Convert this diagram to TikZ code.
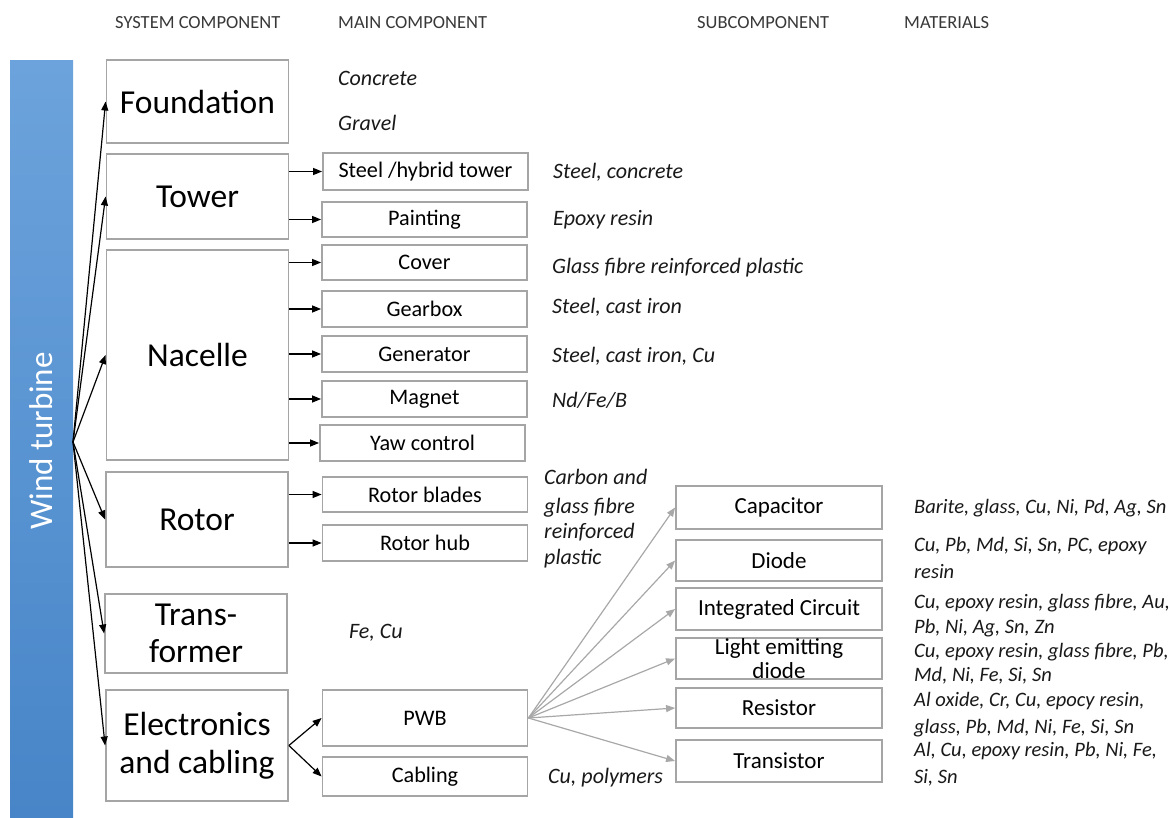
\documentclass[tikz,border=0pt]{standalone}
\usepackage{fontspec}
\setmainfont{Carlito}
\usetikzlibrary{arrows.meta}
\definecolor{boxgray}{HTML}{A5A5A5}
\definecolor{arrowgray}{HTML}{A8A8A8}
\definecolor{headgray}{HTML}{383838}
\definecolor{bartop}{HTML}{6CA3DC}
\definecolor{barbottom}{HTML}{4785C8}
\begin{document}
\begin{tikzpicture}[x=1pt,y=-1pt,
  box/.style={draw=boxgray, line width=1.8pt, fill=white, inner sep=0pt, align=center},
  sysbox/.style={box, minimum width=182pt, font=\fontsize{33.5}{37.5}\selectfont},
  mainbox/.style={box, minimum width=205pt, font=\fontsize{22.2}{24}\selectfont},
  subbox/.style={box, minimum width=206pt, font=\fontsize{23}{24}\selectfont},
  mat/.style={anchor=base west, inner sep=0pt, font=\fontsize{22}{25}\selectfont\itshape, text=black!90},
  smat/.style={mat, font=\fontsize{20.5}{25}\selectfont\itshape},
  head/.style={anchor=base west, inner sep=0pt, font=\fontsize{18.5}{20}\selectfont, text=headgray},
  link/.style={line width=1.2pt, -{Triangle[length=9pt,width=7pt]}},
  glink/.style={draw=arrowgray, line width=1.2pt, -{Triangle[length=9pt,width=7pt]}},
]
\useasboundingbox (0,0) rectangle (1171,818);

% column headings
\node[head] (h1) at (115,28.5) {SYSTEM COMPONENT};
\node[head] (h2) at (338,28.5) {MAIN COMPONENT};
\node[head] (h3) at (697,28.5) {SUBCOMPONENT};
\node[head] (h4) at (904,28.5) {MATERIALS};

% blue side bar
\node[inner sep=0pt, minimum width=63pt, minimum height=757pt,
      top color=bartop, bottom color=barbottom] (bar) at (41.5,439.5) {};
\node[rotate=90, text=white, font=\fontsize{33}{36}\selectfont] (wtlabel) at (41.5,441) {Wind turbine};
\coordinate (fan) at (73,442);

% system components
\node[sysbox, minimum height=83pt]  (found) at (197.5,101.5) {Foundation};
\node[sysbox, minimum height=85pt]  (tower) at (197.5,196.5) {Tower};
\node[sysbox, minimum height=210pt] (nac)   at (197.5,355)   {Nacelle};
\node[sysbox, minimum height=95pt]  (rotor) at (197,519.5)   {Rotor};
\node[sysbox, minimum height=79pt]  (trafo) at (196,633.5)   {Trans-\\former};
\node[sysbox, minimum height=111pt] (elec)  at (197,745.5)   {Electronics\\and cabling};

% main components
\node[mainbox, minimum height=37pt] (steel) at (425.5,171.5) {Steel /hybrid tower};
\node[mainbox, minimum height=35pt] (paint) at (424.5,219.5) {Painting};
\node[mainbox, minimum height=35pt] (cover) at (424.5,262.5) {Cover};
\node[mainbox, minimum height=36pt] (gear)  at (424.5,309)   {Gearbox};
\node[mainbox, minimum height=36pt] (gen)   at (424.5,354)   {Generator};
\node[mainbox, minimum height=36pt] (mag)   at (424.5,399)   {Magnet};
\node[mainbox, minimum height=36pt] (yaw)   at (422.5,443)   {Yaw control};
\node[mainbox, minimum height=35pt] (blades) at (425,494.5)  {Rotor blades};
\node[mainbox, minimum height=36pt] (rhub)  at (425,543)     {Rotor hub};
\node[mainbox, minimum height=56pt] (pwb)   at (425,718)     {PWB};
\node[mainbox, minimum height=39pt] (cab)   at (425,776.5)   {Cabling};

% subcomponents of the printed wiring board
\node[subbox, minimum height=43pt] (cap)  at (779,507.5) {Capacitor};
\node[subbox, minimum height=41pt] (dio)  at (779,560.5) {Diode};
\node[subbox, minimum height=42pt] (ic)   at (779,609)   {Integrated Circuit};
\node[subbox, minimum height=41pt] (led)  at (779,658.5) {Light emitting\\diode};
\node[subbox, minimum height=40pt] (res)  at (779,708)   {Resistor};
\node[subbox, minimum height=42pt] (tra)  at (779,761)   {Transistor};

% materials of main components
\node[mat] (m1)  at (338,86)  {Concrete};
\node[mat] (m2)  at (338,131) {Gravel};
\node[mat] (m3)  at (553,179) {Steel, concrete};
\node[mat] (m4)  at (553,226) {Epoxy resin};
\node[mat] (m5)  at (552,274) {Glass fibre reinforced plastic};
\node[mat] (m6)  at (552,314) {Steel, cast iron};
\node[mat] (m7)  at (552,363) {Steel, cast iron, Cu};
\node[mat] (m8)  at (552,408) {Nd/Fe/B};
\node[mat] (m9)  at (544,484) {Carbon and};
\node[mat] (m10) at (544,513) {glass fibre};
\node[mat] (m11) at (544,538) {reinforced};
\node[mat] (m12) at (544,564) {plastic};
\node[mat] (m13) at (349,638) {Fe, Cu};
\node[mat] (m14) at (548,783) {Cu, polymers};

% materials of subcomponents
\node[smat] (s1)  at (914,513) {Barite, glass, Cu, Ni, Pd, Ag, Sn};
\node[smat] (s2)  at (914,551) {Cu, Pb, Md, Si, Sn, PC, epoxy};
\node[smat] (s3)  at (914,578) {resin};
\node[smat] (s4)  at (914,608) {Cu, epoxy resin, glass fibre, Au,};
\node[smat] (s5)  at (914,633) {Pb, Ni, Ag, Sn, Zn};
\node[smat] (s6)  at (914,657) {Cu, epoxy resin, glass fibre, Pb,};
\node[smat] (s7)  at (914,681) {Md, Ni, Fe, Si, Sn};
\node[smat] (s8)  at (914,706) {Al oxide, Cr, Cu, epocy resin,};
\node[smat] (s9)  at (914,733) {glass, Pb, Md, Ni, Fe, Si, Sn};
\node[smat] (s10) at (914,756) {Al, Cu, epoxy resin, Pb, Ni, Fe,};
\node[smat] (s11) at (914,783) {Si, Sn};

% wind turbine to system components
\foreach \t in {found,tower,nac,rotor,trafo,elec}
  \draw[link] (fan) -- (\t.west);

% system components to main components
\foreach \s/\t in {tower/steel,tower/paint,nac/cover,nac/gear,nac/gen,nac/mag,nac/yaw,rotor/blades,rotor/rhub}
  \draw[link] (\s.east |- \t.west) -- (\t.west);
\draw[link] (elec.east) -- (pwb.west);
\draw[link] (elec.east) -- (cab.west);

% printed wiring board to subcomponents
\foreach \t in {cap,dio,ic,led,res,tra}
  \draw[glink] (pwb.east) -- (\t.west);
\end{tikzpicture}
\end{document}
